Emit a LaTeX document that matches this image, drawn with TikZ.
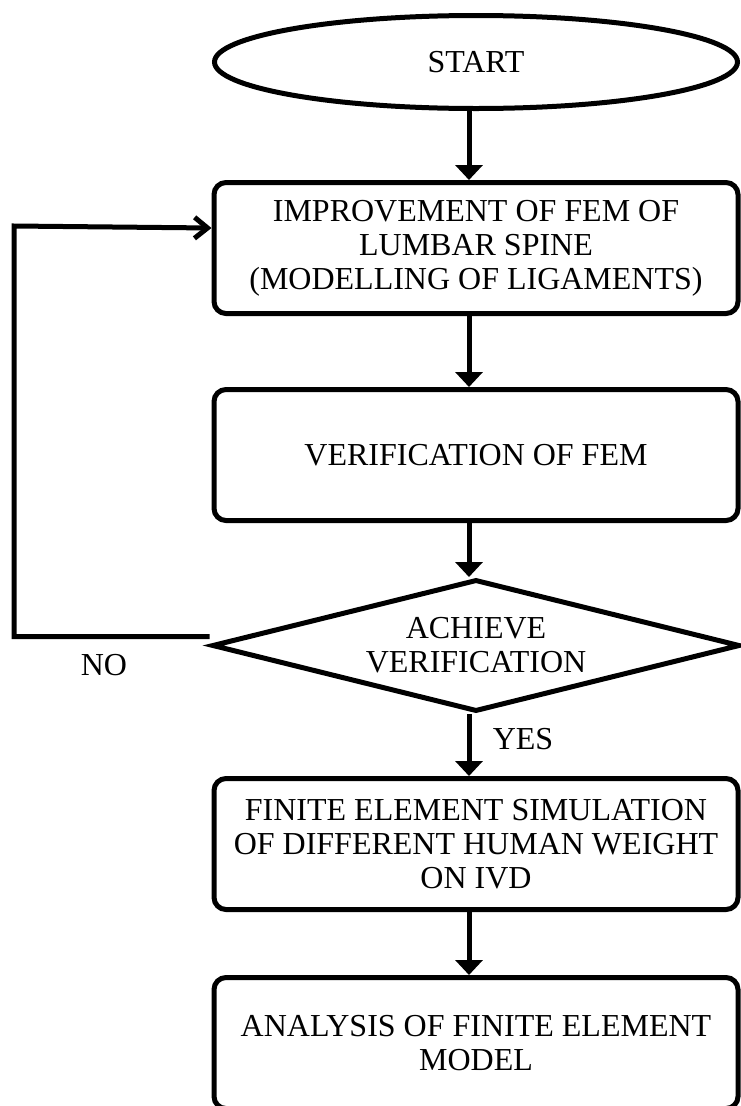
\documentclass[tikz,border=0pt]{standalone}
\usepackage{fontspec}
\setmainfont{Liberation Serif}
\usetikzlibrary{shapes.geometric,positioning,arrows.meta}

\newcommand{\chartfont}{\fontsize{32}{34}\selectfont}

\begin{document}
\begin{tikzpicture}[x=1pt, y=-1pt, node distance=68pt, line width=5pt,
    every node/.style={font=\chartfont, align=center},
    term/.style={draw, ellipse, minimum width=523pt, minimum height=93pt},
    proc/.style={draw, rounded corners=12pt, minimum width=524pt, minimum height=131pt},
    dec/.style={draw, diamond, aspect=4, inner sep=0pt, minimum width=528pt, minimum height=132pt},
    flow/.style={-{Triangle[width=27pt,length=15pt]}},
    back/.style={-{Straight Barb[width=21pt,length=13pt]}}]
  \useasboundingbox (0,0) rectangle (741,1106);
      \node (start) [term] at (476,62) {START};
      \node (fem) [proc, below=69pt of start] {IMPROVEMENT OF FEM OF\\LUMBAR SPINE\\(MODELLING OF LIGAMENTS)};
      \node (verif) [proc, below=71pt of fem] {VERIFICATION OF FEM};
      \node (check) [dec, below=54pt of verif] {ACHIEVE\\VERIFICATION};
      \node (sim) [proc, below=62pt of check] {FINITE ELEMENT SIMULATION\\OF DIFFERENT HUMAN WEIGHT\\ON IVD};
      \node (ana) [proc, below=63pt of sim] {ANALYSIS OF FINITE ELEMENT\\MODEL};
      \coordinate (corner) at (14,226);
    \draw [flow] ([xshift=-7pt]start.south) to ([xshift=-7pt]fem.north);
    \draw [flow] ([xshift=-7pt]fem.south) to ([xshift=-7pt]verif.north);
    \draw [flow] ([xshift=-7pt]verif.south) to ([xshift=-7pt]check.north);
    \draw [flow] ([xshift=-7pt]check.south) to node [pos=0.4, right=18pt]{YES} ([xshift=-7pt]sim.north);
    \draw [flow] ([xshift=-7pt]sim.south) to ([xshift=-7pt]ana.north);
    \draw [back] ([yshift=9pt]check.west) -| node [pos=0.27, below=12pt]{NO} (corner) -- ([yshift=20pt]fem.west);
\end{tikzpicture}
\end{document}
